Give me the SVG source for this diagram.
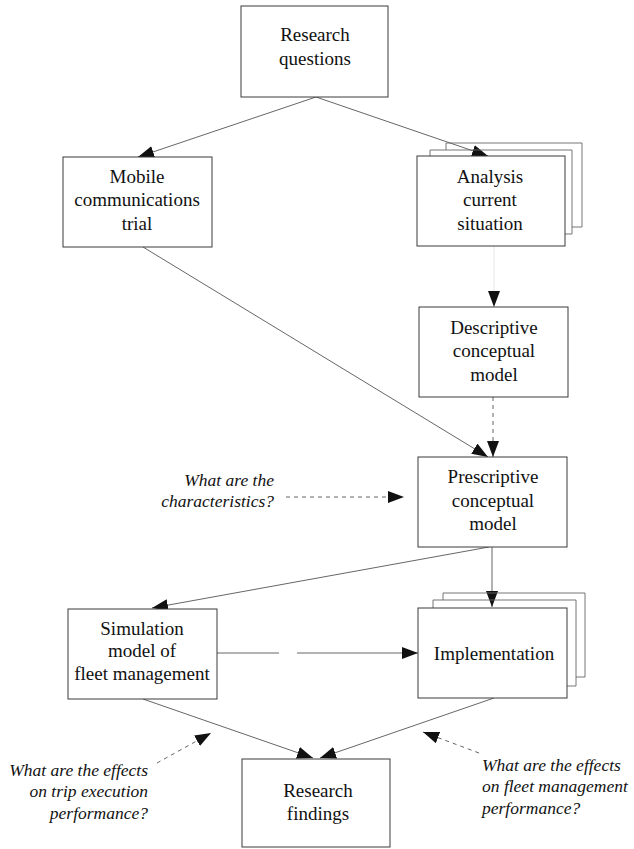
<svg xmlns="http://www.w3.org/2000/svg" width="634" height="849" viewBox="0 0 634 849">
  <style>
    .box { fill: #fff; stroke: #3a3a3a; stroke-width: 1; }
    .page { fill: none; stroke: #666; stroke-width: 0.9; }
    .lbl { font-family: "Liberation Serif", "Times New Roman", serif; font-size: 19px; fill: #111; text-anchor: middle; }
    .q { font-family: "Liberation Serif", "Times New Roman", serif; font-size: 17.5px; font-style: italic; fill: #111; }
    .link { fill: none; stroke: #555; stroke-width: 0.9; marker-end: url(#head); }
    .dash { stroke-dasharray: 4 4; }
    .faint { stroke: #e4e4e4; }
  </style>
  <defs>
    <marker id="head" markerUnits="userSpaceOnUse" markerWidth="17" markerHeight="13" refX="16" refY="6" orient="auto">
      <path d="M0,0 L16,6 L0,12 z" fill="#111"/>
    </marker>
  </defs>

  <rect width="634" height="849" fill="#fff"/>

  <!-- connectors -->
  <g id="connectors">
    <line class="link" x1="316" y1="97" x2="138" y2="157"/>
    <line class="link" x1="316" y1="97" x2="488" y2="156"/>
    <line class="link faint" x1="494" y1="246" x2="494" y2="307"/>
    <line class="link dash" x1="493" y1="397" x2="493" y2="457"/>
    <line class="link" x1="143" y1="247" x2="488" y2="457"/>
    <line class="link dash" x1="286" y1="497" x2="404" y2="497"/>
    <line class="link" x1="489" y1="547" x2="152" y2="608"/>
    <line class="link" x1="492" y1="547" x2="492" y2="607"/>
    <line x1="217" y1="653" x2="279" y2="653" stroke="#555" stroke-width="0.9"/>
    <line class="link" x1="297" y1="653" x2="418" y2="653"/>
    <line class="link" x1="143" y1="699" x2="313" y2="758"/>
    <line class="link" x1="494" y1="698" x2="320" y2="758"/>
    <line class="link dash" x1="157" y1="763" x2="211" y2="733"/>
    <line class="link dash" x1="479" y1="753" x2="423" y2="732"/>
  </g>

  <g id="research-questions">
    <rect class="box" x="241" y="6" width="147" height="91"/>
    <text class="lbl" x="315" y="41">Research</text>
    <text class="lbl" x="315" y="65">questions</text>
  </g>

  <g id="mobile-trial">
    <rect class="box" x="63" y="157" width="149" height="90"/>
    <text class="lbl" x="137" y="183">Mobile</text>
    <text class="lbl" x="137" y="206">communications</text>
    <text class="lbl" x="137" y="230">trial</text>
  </g>

  <g id="analysis">
    <path class="page" d="M446,150 V143 H582 V227 H572"/>
    <path class="page" d="M430,156 V150 H572 V234 H565"/>
    <rect class="box" x="417" y="156" width="148" height="90"/>
    <text class="lbl" x="490" y="183">Analysis</text>
    <text class="lbl" x="490" y="206">current</text>
    <text class="lbl" x="490" y="230">situation</text>
  </g>

  <g id="descriptive-model">
    <rect class="box" x="419" y="307" width="149" height="90"/>
    <text class="lbl" x="494" y="334">Descriptive</text>
    <text class="lbl" x="494" y="357">conceptual</text>
    <text class="lbl" x="494" y="381">model</text>
  </g>

  <g id="prescriptive-model">
    <rect class="box" x="418" y="457" width="149" height="90"/>
    <text class="lbl" x="493" y="483">Prescriptive</text>
    <text class="lbl" x="493" y="507">conceptual</text>
    <text class="lbl" x="493" y="530">model</text>
  </g>

  <g id="characteristics-question">
    <text class="q" x="274" y="486" text-anchor="end">What are the</text>
    <text class="q" x="274" y="507" text-anchor="end">characteristics?</text>
  </g>

  <g id="simulation-model">
    <rect class="box" x="68" y="609" width="149" height="90"/>
    <text class="lbl" x="142" y="635">Simulation</text>
    <text class="lbl" x="142" y="657">model of</text>
    <text class="lbl" x="142" y="680">fleet management</text>
  </g>

  <g id="implementation">
    <path class="page" d="M443,600 V593 H585 V677 H576"/>
    <path class="page" d="M433,608 V600 H576 V686 H567"/>
    <rect class="box" x="418" y="608" width="149" height="90"/>
    <text class="lbl" x="494" y="660">Implementation</text>
  </g>

  <g id="trip-question">
    <text class="q" x="148" y="776" text-anchor="end">What are the effects</text>
    <text class="q" x="148" y="797" text-anchor="end">on trip execution</text>
    <text class="q" x="148" y="819" text-anchor="end">performance?</text>
  </g>

  <g id="fleet-question">
    <text class="q" x="482" y="771">What are the effects</text>
    <text class="q" x="482" y="792">on fleet management</text>
    <text class="q" x="482" y="814">performance?</text>
  </g>

  <g id="research-findings">
    <rect class="box" x="242" y="759" width="148" height="88"/>
    <text class="lbl" x="318" y="797">Research</text>
    <text class="lbl" x="318" y="820">findings</text>
  </g>
</svg>
